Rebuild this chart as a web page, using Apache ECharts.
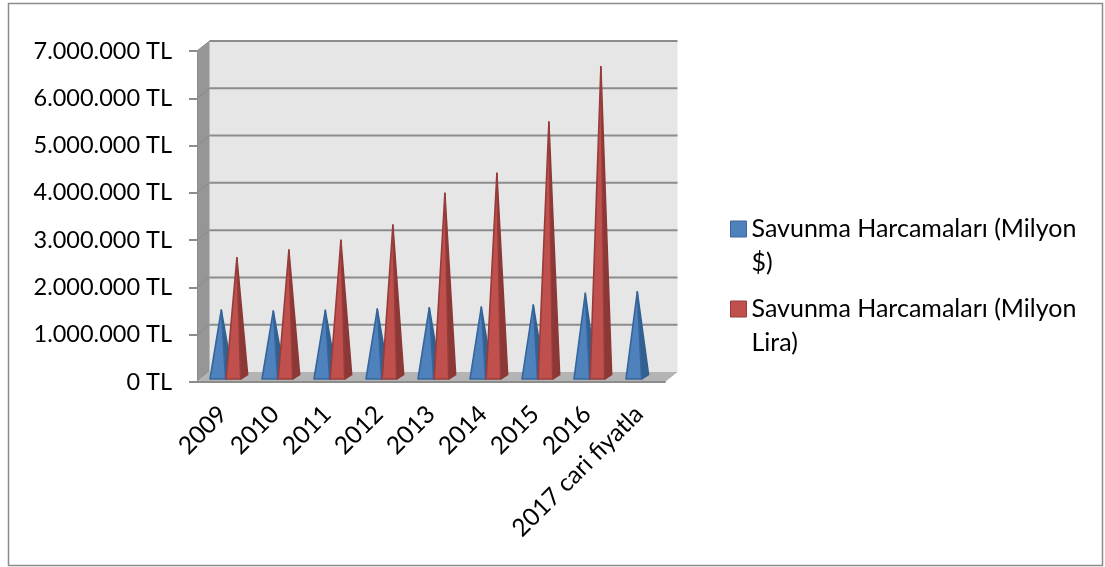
<!DOCTYPE html>
<html>
<head>
<meta charset="utf-8">
<style>
html, body { margin: 0; padding: 0; background: #fff; }
#main { width: 1105px; height: 567px; }
</style>
<script src="https://cdn.jsdelivr.net/npm/echarts@6/dist/echarts.min.js"></script>
</head>
<body>
<div id="main"></div>
<script>
var categories = ['2009', '2010', '2011', '2012', '2013', '2014', '2015', '2016', '2017 cari fiyatla'];
var dollarValues = [1417000, 1396000, 1410000, 1438000, 1465000, 1480000, 1523000, 1770000, 1804000];
var liraValues = [2523000, 2686000, 2891000, 3214000, 3885000, 4308000, 5392000, 6562000, null];
var yTicks = [0, 1000000, 2000000, 3000000, 4000000, 5000000, 6000000, 7000000];
var dollarName = 'Savunma Harcamaları (Milyon\n$)';
var liraName = 'Savunma Harcamaları (Milyon\nLira)';

var fontName = 'Lato';
var depthX = 12.5, depthY = -10;

// duvarlar ve taban
function renderWalls(params, api) {
    var cs = params.coordSys;
    var l = cs.x, r = cs.x + cs.width, t = cs.y, b = cs.y + cs.height;
    return {
        type: 'group',
        children: [
            { type: 'polygon', shape: { points: [[l + depthX, t + depthY], [r + depthX, t + depthY], [r + depthX, b + depthY], [l + depthX, b + depthY]] },
              style: { fill: '#e6e6e6' } },
            { type: 'polygon', shape: { points: [[l, t], [l + depthX, t + depthY], [l + depthX, b + depthY], [l, b]] },
              style: { fill: '#969696' } },
            { type: 'polygon', shape: { points: [[l, b], [l + depthX, b + depthY], [r + depthX, b + depthY], [r, b]] },
              style: { fill: '#b4b4b4' } },
            { type: 'line', shape: { x1: l + depthX, y1: b + depthY, x2: l + depthX, y2: t + depthY },
              style: { stroke: '#bdbdbd', lineWidth: 1 } }
        ]
    };
}

// arka duvardaki yatay cizgiler
function renderGrid(params, api) {
    var cs = params.coordSys;
    var p = api.coord([0, api.value(0)]);
    var y = p[1];
    var l = cs.x, r = cs.x + cs.width;
    return {
        type: 'group',
        children: [
            { type: 'line', shape: { x1: l, y1: y, x2: l + depthX, y2: y + depthY },
              style: { stroke: '#8a8a8a', lineWidth: 1 } },
            { type: 'line', shape: { x1: l + depthX, y1: y + depthY, x2: r + depthX, y2: y + depthY },
              style: { stroke: '#8c8c8c', lineWidth: 2 } }
        ]
    };
}

function coneRenderer(startRatio, widthRatio, front, side, edge) {
    return function (params, api) {
        if (isNaN(api.value(1))) return null;
        var band = api.size([1, 0])[0];
        var center = api.coord([api.value(0), 0]);
        var top = api.coord([api.value(0), api.value(1)]);
        var x0 = center[0] - band / 2 + band * startRatio;
        var x1 = x0 + band * widthRatio;
        var baseY = center[1] - 3;
        var backX = 7, backY = -4.5;
        var apex = [(x0 + x1 + backX) / 2, top[1] + depthY / 2];
        return {
            type: 'group',
            children: [
                { type: 'polygon', shape: { points: [[x1, baseY], [x1 + backX, baseY + backY], apex] },
                  style: { fill: side, stroke: side, lineWidth: 1.5, lineJoin: 'round' } },
                { type: 'polygon', shape: { points: [[x0, baseY], [x1, baseY], apex] },
                  style: { fill: front, stroke: edge, lineWidth: 1.6, lineJoin: 'round' } }
            ]
        };
    };
}

var myChart = echarts.init(document.getElementById('main'));
var option = {
    animation: false,
    backgroundColor: '#fff',
    textStyle: { fontFamily: fontName },
    graphic: [{
        type: 'rect',
        silent: true,
        shape: { x: 8.5, y: 3.5, width: 1094, height: 562 },
        style: { fill: 'none', stroke: '#8c8c8c', lineWidth: 1.5 }
    }],
    grid: { left: 197, top: 51, width: 468, height: 331 },
    xAxis: {
        type: 'category',
        data: categories,
        boundaryGap: true,
        z: 5,
        axisLine: { lineStyle: { color: '#8c8c8c', width: 2 } },
        axisTick: { length: 8, lineStyle: { color: '#8c8c8c', width: 2 } },
        axisLabel: { interval: 0, rotate: 45, margin: 28, color: '#000', fontSize: 24.5, fontFamily: fontName }
    },
    yAxis: {
        type: 'value',
        min: 0,
        max: 7000000,
        interval: 1000000,
        z: 5,
        splitLine: { show: false },
        axisLine: { show: true, lineStyle: { color: '#8c8c8c', width: 1 } },
        axisTick: { show: true, length: 8, lineStyle: { color: '#8c8c8c', width: 2 } },
        axisLabel: {
            margin: 25,
            color: '#000',
            fontSize: 23.5,
            fontFamily: fontName,
            padding: [4, 0, 0, 0],
            formatter: function (v) {
                return String(v).replace(/\B(?=(\d{3})+$)/g, '.') + ' TL';
            }
        }
    },
    legend: {
        orient: 'vertical',
        left: 730,
        top: 178,
        padding: 0,
        itemWidth: 16,
        itemHeight: 16,
        itemGap: -22,
        selectedMode: false,
        textStyle: { color: '#000', fontSize: 25, fontFamily: fontName, lineHeight: 34 },
        // ilk satir kutucukla ayni hizada kalsin diye bos satir
        formatter: function (name) { return ' \n' + name; },
        data: [
            { name: dollarName, icon: 'rect', itemStyle: { color: '#4f81bd', borderColor: '#3a679b', borderWidth: 1 } },
            { name: liraName, icon: 'rect', itemStyle: { color: '#c0504d', borderColor: '#963c3a', borderWidth: 1 } }
        ]
    },
    series: [
        { type: 'custom', name: 'walls', silent: true, z: 1, data: [0], renderItem: renderWalls, encode: { y: 0 } },
        { type: 'custom', name: 'grid', silent: true, z: 1.5, data: yTicks.slice(1), renderItem: renderGrid, encode: { y: 0 } },
        { type: 'custom', name: dollarName, z: 2,
          itemStyle: { color: '#4f81bd' },
          data: dollarValues.map(function (v, i) { return [i, v]; }),
          encode: { x: 0, y: 1 },
          renderItem: coneRenderer(0.25, 0.30, '#4f81bd', '#33608f', '#34659c') },
        { type: 'custom', name: liraName, z: 3,
          itemStyle: { color: '#c0504d' },
          data: liraValues.map(function (v, i) { return [i, v]; }),
          encode: { x: 0, y: 1 },
          renderItem: coneRenderer(0.56, 0.28, '#c0504d', '#8b3836', '#963c3a') }
    ]
};
myChart.setOption(option);
</script>
</body>
</html>
